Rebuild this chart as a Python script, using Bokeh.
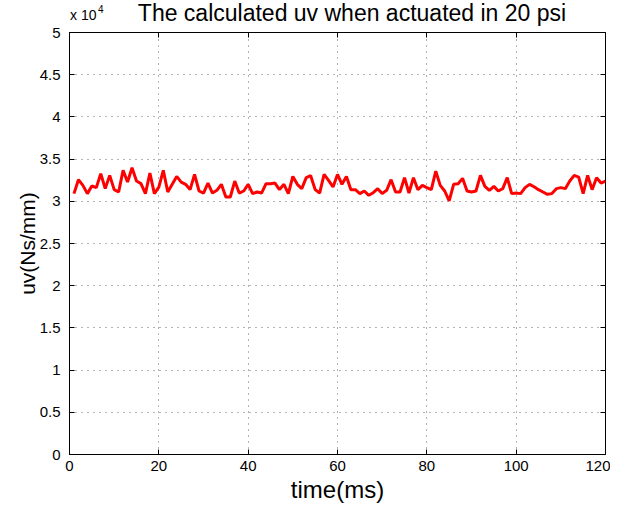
from bokeh.plotting import figure
from bokeh.models import FixedTicker, CustomJSTickFormatter, LinearAxis, Range1d, Div
from bokeh.layouts import column
from bokeh.embed import file_html
from bokeh.resources import INLINE

# data
time_ms = list(range(1, 121))
uv = [30910, 32560, 31890, 30910, 31810, 31620, 33270, 31500, 33070, 31380,
      31100, 33660, 32280, 33980, 32400, 32090, 30910, 33350, 30910, 31690,
      33660, 31100, 32010, 32950, 32280, 32010, 31380, 33190, 31220, 30980,
      32160, 30980, 31300, 32010, 30510, 30510, 32400, 30980, 31220, 32010,
      30910, 31100, 30980, 32090, 32090, 32160, 31380, 32010, 30910, 32950,
      32010, 31500, 32800, 33030, 31380, 30980, 33190, 32480, 31690, 33190,
      32010, 32950, 31380, 31380, 30910, 31220, 30710, 31020, 31500, 30910,
      31300, 32560, 31100, 31100, 32800, 30980, 32800, 31380, 31890, 31620,
      31380, 33580, 31890, 31220, 30040, 32010, 32090, 32720, 31220, 31100,
      31220, 33070, 31770, 31300, 31770, 31220, 31500, 32800, 30910, 30980,
      30910, 31620, 32010, 31720, 31380, 31100, 30830, 30910, 31500, 31620,
      31500, 32400, 33070, 32870, 30910, 33070, 31380, 32800, 32160, 32400]
x_ticks = [0, 20, 40, 60, 80, 100, 120]
y_ticks = [0, 5000, 10000, 15000, 20000, 25000, 30000, 35000, 40000, 45000, 50000]
title_text = "The calculated uv when actuated in 20 psi"
x_label = "time(ms)"
y_label = "uv(Ns/mm)"
exp_base = "x 10"
exp_power = "4"

FONT = "Liberation Sans"

header = Div(
    text=(
        '<div style="position:relative;width:610px;height:27px;'
        'font-family:\'Liberation Sans\',Arial,sans-serif;color:black;">'
        f'<span style="position:absolute;left:352px;top:0px;transform:translateX(-50%);'
        f'font-size:23px;line-height:normal;white-space:nowrap;">{title_text}</span>'
        f'<span style="position:absolute;left:70px;top:7px;font-size:14px;'
        f'line-height:normal;white-space:nowrap;">{exp_base}</span>'
        f'<span style="position:absolute;left:98px;top:4px;font-size:10px;'
        f'line-height:normal;white-space:nowrap;">{exp_power}</span>'
        '</div>'
    ),
    width=610, height=27, margin=0,
)

p = figure(width=610, height=481, output_backend="svg", toolbar_location=None,
           x_range=Range1d(0, 120), y_range=Range1d(0, 50000),
           min_border_left=69, min_border_right=5, min_border_top=8, min_border_bottom=50,
           margin=(-3, 0, 0, 0))
p.background_fill_color = "white"
p.border_fill_color = None
p.outline_line_color = "black"
p.outline_line_width = 1
p.outline_line_alpha = 1

p.line(time_ms, uv, line_color="#ff0000", line_width=3)

for ax in (p.xaxis[0], p.yaxis[0]):
    ax.major_tick_in = 5
    ax.major_tick_out = 0
    ax.minor_tick_line_color = None
    ax.axis_line_color = "black"
    ax.major_label_text_font = FONT
    ax.major_label_text_font_size = "15px"
    ax.major_label_text_color = "black"
    ax.axis_label_text_font = FONT
    ax.axis_label_text_font_style = "normal"
    ax.axis_label_text_color = "black"

p.xaxis.axis_label_text_font_size = "24px"
p.yaxis.axis_label_text_font_size = "21px"
p.xaxis.ticker = FixedTicker(ticks=x_ticks)
p.yaxis.ticker = FixedTicker(ticks=y_ticks)
p.yaxis.formatter = CustomJSTickFormatter(code="return String(tick/10000);")
p.xaxis.axis_label = x_label
p.yaxis.axis_label = y_label
p.xaxis.major_label_standoff = 6
p.yaxis.major_label_standoff = 9
p.xaxis.axis_label_standoff = 2
p.yaxis.axis_label_standoff = -2

# top/right tick marks (no labels)
blank = CustomJSTickFormatter(code="return '';")
top = LinearAxis(ticker=FixedTicker(ticks=x_ticks), formatter=blank,
                 major_label_text_color=None, major_label_text_font_size="1px",
                 major_tick_in=5, major_tick_out=0, minor_tick_line_color=None,
                 axis_line_color=None, major_label_standoff=0)
right = LinearAxis(ticker=FixedTicker(ticks=y_ticks), formatter=blank,
                   major_label_text_color=None, major_label_text_font_size="1px",
                   major_tick_in=5, major_tick_out=0, minor_tick_line_color=None,
                   axis_line_color=None, major_label_standoff=0)
p.add_layout(top, "above")
p.add_layout(right, "right")

p.xgrid.ticker = FixedTicker(ticks=x_ticks)
p.ygrid.ticker = FixedTicker(ticks=y_ticks)
p.grid.grid_line_color = "black"
p.grid.grid_line_alpha = 0.6
p.grid.grid_line_dash = "1 5"
p.grid.grid_line_width = 1

layout = column(header, p, spacing=0)
open("out.html", "w").write(file_html(layout, INLINE))
